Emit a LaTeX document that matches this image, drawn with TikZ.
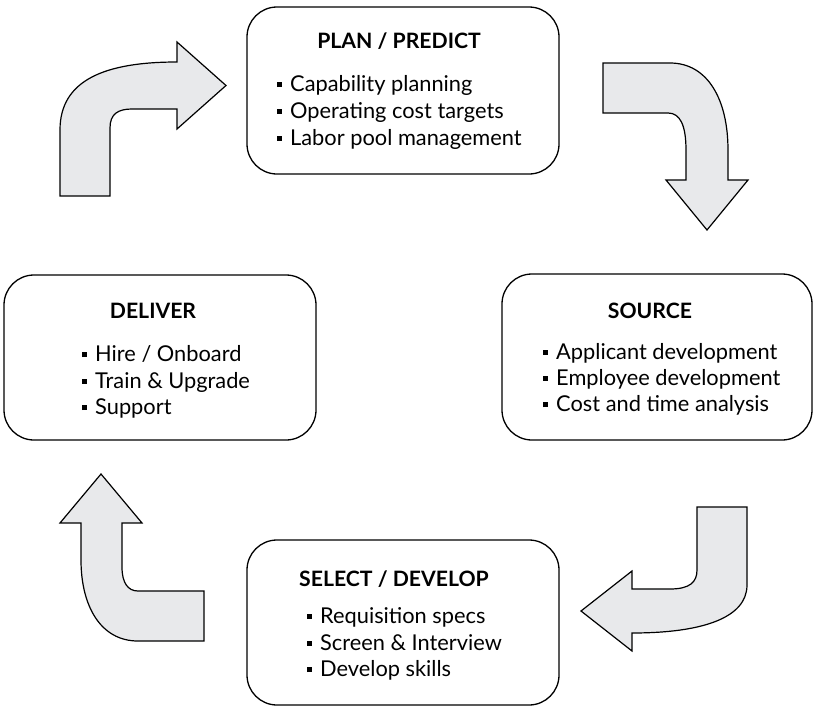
\documentclass[tikz,border=0pt]{standalone}
\usepackage{fontspec}
\setmainfont{Lato}
\begin{document}
\begin{tikzpicture}[x=1pt,y=-1pt,
  box/.style={draw=black,line width=1.3pt,rounded corners=30pt,minimum width=#1,minimum height=165pt,inner sep=0pt},
  bigarrow/.style={draw=black,line width=1.2pt,fill=arrowgray,line join=miter},
  ttl/.style={font=\fontsize{21.2}{24}\selectfont\bfseries,anchor=base,inner sep=0pt},
  itm/.style={font=\fontsize{21.8}{24}\selectfont,anchor=base west,inner sep=0pt}]
\definecolor{arrowgray}{HTML}{E8E9EB}
\useasboundingbox (0,0) rectangle (815,707);
\newcommand{\bul}{\rule[4.5pt]{5pt}{5pt}\hspace{8pt}}
% boxes
\node[box=312pt,minimum height=167pt] (plan) at (403,90.5) {};
\node[box=312pt] (deliver) at (160,357.5) {};
\node[box=310pt,minimum height=166pt] (source) at (657,357) {};
\node[box=312pt] (select) at (403,622.5) {};
% titles
\node[ttl] (plant) at (399,48.3) {PLAN / PREDICT};
\node[ttl] (delivert) at (153,318.3) {DELIVER};
\node[ttl] (sourcet) at (650,318.3) {SOURCE};
\node[ttl] (selectt) at (394,586.7) {SELECT / DEVELOP};
% items
\node[itm] (p1) at (277,91.7) {\bul Capability planning};
\node[itm] (p2) at (277,118.3) {\bul Operating cost targets};
\node[itm] (p3) at (277,145) {\bul Labor pool management};
\node[itm] (d1) at (82,361.7) {\bul Hire / Onboard};
\node[itm] (d2) at (82,388) {\bul Train \& Upgrade};
\node[itm] (d3) at (82,414.5) {\bul Support};
\node[itm] (s1) at (543,359) {\bul Applicant development};
\node[itm] (s2) at (543,385.3) {\bul Employee development};
\node[itm] (s3) at (543,411.7) {\bul Cost and time analysis};
\node[itm] (e1) at (307,623.3) {\bul Requisition specs};
\node[itm] (e2) at (307,650) {\bul Screen \& Interview};
\node[itm] (e3) at (307,676.7) {\bul Develop skills};
% top-left arrow
\draw[bigarrow] (60,196) -- (60,130) .. controls (60,80) and (105,62) .. (177,62)
  -- (177,42) -- (226,85.5) -- (177,129) -- (177,109) -- (132,109)
  .. controls (118,109) and (110,114) .. (110,128) -- (110,196) -- cycle;
% top-right arrow
\draw[bigarrow] (603,63) -- (670,63) .. controls (708,63) and (728,100) .. (728,150)
  -- (728,180) -- (748,180) -- (707,230) -- (666,180) -- (686,180) -- (686,150)
  .. controls (686,125) and (680,113) .. (668,113) -- (603,113) -- cycle;
% bottom-right arrow
\draw[bigarrow] (697,507) -- (747,507) -- (747,585) .. controls (747,618) and (702,633) .. (632,633)
  -- (632,651) -- (581,611) -- (632,571) -- (632,589) -- (670,589)
  .. controls (690,589) and (697,582) .. (697,570) -- cycle;
% bottom-left arrow
\draw[bigarrow] (204,641) -- (138,641) .. controls (100,641) and (81,605) .. (81,560)
  -- (81,523) -- (60,523) -- (101,474) -- (142,523) -- (122,523) -- (122,567)
  .. controls (122,583) and (128,591) .. (138,591) -- (204,591) -- cycle;
\end{tikzpicture}
\end{document}
